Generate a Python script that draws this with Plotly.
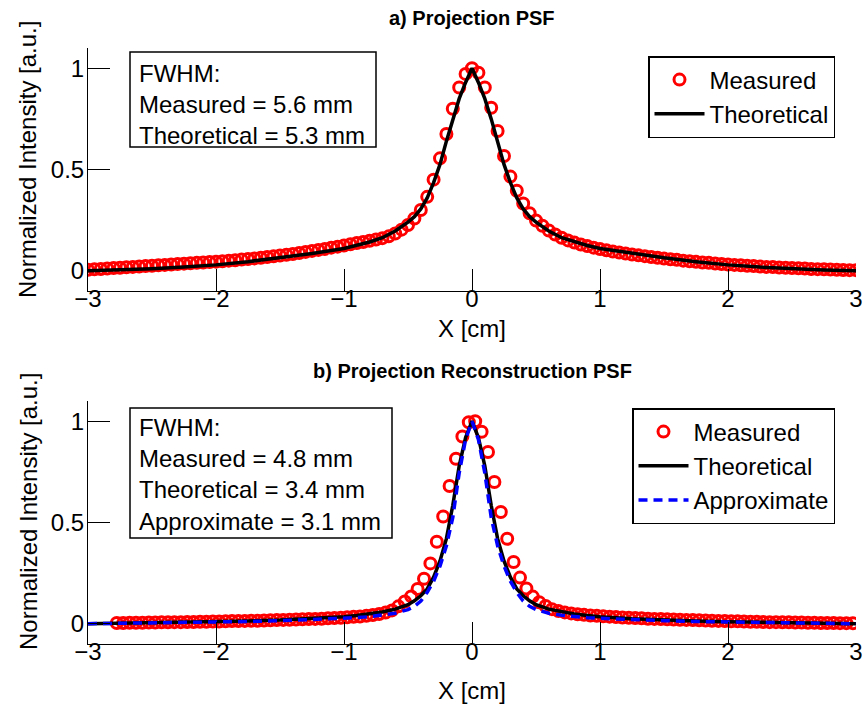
import plotly.graph_objects as go
import numpy as np

# ---------------- data ----------------
# Panel a) Projection PSF
meas_a_x = np.round(np.arange(-3.0, 3.0001, 0.05), 3)
meas_a_y = [
    0.005, 0.007, 0.009, 0.011, 0.013, 0.015, 0.017, 0.019, 0.021, 0.023,
    0.025, 0.027, 0.029, 0.031, 0.033, 0.035, 0.037, 0.039, 0.041, 0.043,
    0.045, 0.047, 0.050, 0.052, 0.055, 0.058, 0.061, 0.064, 0.068, 0.071,
    0.075, 0.079, 0.083, 0.088, 0.093, 0.098, 0.103, 0.108, 0.114, 0.119,
    0.125, 0.131, 0.137, 0.142, 0.148, 0.154, 0.161, 0.170, 0.184, 0.203,
    0.226, 0.258, 0.300, 0.365, 0.450, 0.555, 0.675, 0.800, 0.905, 0.972,
    1.000,
    0.978, 0.905, 0.805, 0.690, 0.567, 0.465, 0.395, 0.332, 0.284, 0.248,
    0.222, 0.199, 0.179, 0.163, 0.150, 0.139, 0.130, 0.122, 0.114, 0.107,
    0.101, 0.095, 0.090, 0.085, 0.080, 0.076, 0.072, 0.068, 0.064, 0.060,
    0.057, 0.054, 0.050, 0.047, 0.044, 0.041, 0.039, 0.036, 0.033, 0.031,
    0.029, 0.027, 0.025, 0.023, 0.021, 0.019, 0.018, 0.016, 0.015, 0.013,
    0.012, 0.011, 0.009, 0.008, 0.007, 0.006, 0.005, 0.004, 0.003, 0.003,
]
theo_a_x = [-3, -2.75, -2.5, -2.25, -2, -1.75, -1.5, -1.25, -1, -0.9, -0.8, -0.7,
            -0.6, -0.5, -0.45, -0.4, -0.35, -0.3, -0.25, -0.2, -0.15, -0.1, -0.05,
            0,
            0.05, 0.1, 0.15, 0.2, 0.25, 0.3, 0.35, 0.4, 0.45, 0.5, 0.6, 0.7, 0.8,
            0.9, 1, 1.25, 1.5, 1.75, 2, 2.25, 2.5, 2.75, 3]
theo_a_y = [0.0, 0.004, 0.010, 0.018, 0.029, 0.045, 0.064, 0.085, 0.110, 0.125, 0.142, 0.163,
            0.196, 0.240, 0.267, 0.305, 0.360, 0.435, 0.525, 0.640, 0.750, 0.850, 0.930,
            1.0,
            0.930, 0.850, 0.750, 0.640, 0.525, 0.435, 0.360, 0.305, 0.267, 0.240, 0.196, 0.163, 0.142,
            0.125, 0.110, 0.085, 0.064, 0.045, 0.029, 0.018, 0.010, 0.004, 0.0]

# Panel b) Projection Reconstruction PSF
meas_b_x = np.round(np.arange(-2.775, 2.9751, 0.05), 3)
meas_b_y = [
    0.004, 0.004, 0.005, 0.005, 0.005, 0.006, 0.006, 0.007, 0.007, 0.008,
    0.008, 0.009, 0.009, 0.010, 0.010, 0.011, 0.011, 0.012, 0.013, 0.013,
    0.014, 0.015, 0.015, 0.016, 0.017, 0.018, 0.019, 0.020, 0.021, 0.022,
    0.023, 0.024, 0.025, 0.027, 0.028, 0.030, 0.032, 0.034, 0.036, 0.039,
    0.043, 0.048, 0.055, 0.066, 0.086, 0.110, 0.135, 0.172, 0.222, 0.298,
    0.405, 0.530, 0.680, 0.815, 0.925, 0.995,
    1.000, 0.948, 0.848, 0.700, 0.552, 0.420, 0.305, 0.228, 0.174, 0.134,
    0.106, 0.088, 0.072, 0.063, 0.056, 0.051, 0.047, 0.044, 0.041, 0.039,
    0.037, 0.035, 0.033, 0.031, 0.030, 0.028, 0.027, 0.025, 0.024, 0.023,
    0.022, 0.021, 0.020, 0.019, 0.018, 0.017, 0.016, 0.015, 0.014, 0.013,
    0.012, 0.012, 0.011, 0.010, 0.010, 0.009, 0.008, 0.008, 0.007, 0.007,
    0.006, 0.006, 0.005, 0.005, 0.004, 0.004, 0.004, 0.003, 0.003, 0.003,
]
line_b_x = [-3, -2.5, -2, -1.75, -1.5, -1.25, -1, -0.9, -0.8, -0.7, -0.6, -0.5,
            -0.45, -0.4, -0.35, -0.3, -0.25, -0.2, -0.15, -0.1, -0.05,
            0,
            0.05, 0.1, 0.15, 0.2, 0.25, 0.3, 0.35, 0.4, 0.45,
            0.5, 0.6, 0.7, 0.8, 0.9, 1, 1.25, 1.5, 1.75, 2, 2.5, 3]
theo_b_y = [0.0, 0.004, 0.010, 0.014, 0.018, 0.025, 0.035, 0.041, 0.048, 0.058, 0.072, 0.094,
            0.113, 0.138, 0.172, 0.230, 0.310, 0.420, 0.585, 0.780, 0.920,
            1.0,
            0.920, 0.780, 0.585, 0.420, 0.310, 0.230, 0.172, 0.138, 0.113,
            0.094, 0.072, 0.058, 0.048, 0.041, 0.035, 0.025, 0.018, 0.014, 0.010, 0.004, 0.0]
appr_b_y = [0.0, 0.003, 0.008, 0.011, 0.015, 0.020, 0.027, 0.030, 0.035, 0.042, 0.052, 0.070,
            0.086, 0.112, 0.155, 0.210, 0.285, 0.385, 0.525, 0.745, 0.910,
            1.0,
            0.910, 0.745, 0.525, 0.385, 0.285, 0.210, 0.155, 0.112, 0.086,
            0.070, 0.052, 0.042, 0.035, 0.030, 0.027, 0.020, 0.015, 0.011, 0.008, 0.003, 0.0]

x_ticks = [-3, -2, -1, 0, 1, 2, 3]
y_ticks = [0, 0.5, 1]
y_ticktext = ["0", "0.5", "1"]

# ---------------- layout helpers (pixel -> paper) ----------------
W, H = 865, 706
L, R, T, B = 88, 9, 48, 62
PW, PH = W - L - R, H - T - B


def px(xp):
    return (xp - L) / PW


def py(yp):
    return (H - B - yp) / PH


FONT = "Liberation Sans, Arial, Helvetica, sans-serif"
FS = 24
RED, BLUE = "#ff0000", "#0000ff"

fig = go.Figure()
mk = dict(symbol="circle-open", size=11, color=RED, line=dict(width=3, color=RED))

fig.add_trace(go.Scatter(x=meas_a_x, y=meas_a_y, mode="markers", marker=mk,
                         name="Measured", xaxis="x", yaxis="y", legend="legend"))
fig.add_trace(go.Scatter(x=theo_a_x, y=theo_a_y, mode="lines",
                         line=dict(color="black", width=3.5),
                         name="Theoretical", xaxis="x", yaxis="y", legend="legend"))
fig.add_trace(go.Scatter(x=meas_b_x, y=meas_b_y, mode="markers", marker=mk,
                         name="Measured", xaxis="x2", yaxis="y2", legend="legend2"))
fig.add_trace(go.Scatter(x=line_b_x, y=theo_b_y, mode="lines",
                         line=dict(color="black", width=3.5),
                         name="Theoretical", xaxis="x2", yaxis="y2", legend="legend2"))
fig.add_trace(go.Scatter(x=line_b_x, y=appr_b_y, mode="lines",
                         line=dict(color=BLUE, width=3.5, dash="9px,6px"),
                         name="Approximate", xaxis="x2", yaxis="y2", legend="legend2"))

top_dom = [py(291), 1.0]
bot_dom = [0.0, py(401)]

xax = dict(range=[-3, 3], tickvals=x_ticks, ticks="inside", ticklen=22, tickwidth=1,
           tickcolor="black", showline=True, linecolor="black", linewidth=1,
           showgrid=False, zeroline=False, mirror=False, automargin=False,
           ticklabelstandoff=-14,
           tickfont=dict(size=FS, color="black", family=FONT), domain=[0, 1])
yax = dict(range=[-0.1, 1.1], tickvals=y_ticks, ticktext=y_ticktext, ticks="inside",
           ticklen=22, tickwidth=1, tickcolor="black", showline=True, linecolor="black",
           linewidth=1, showgrid=False, zeroline=False, mirror=False, automargin=False,
           ticklabelstandoff=-2,
           tickfont=dict(size=FS, color="black", family=FONT))

legend_common = dict(bgcolor="white", bordercolor="black", borderwidth=1.5,
                     font=dict(size=FS, family=FONT, color="black"),
                     itemwidth=50, xanchor="right", yanchor="top", tracegroupgap=0)

fig.update_layout(
    template="none",
    width=W, height=H,
    margin=dict(l=L, r=R, t=T, b=B, autoexpand=False),
    paper_bgcolor="white", plot_bgcolor="white",
    font=dict(family=FONT, size=FS, color="black"),
    xaxis=dict(**xax, anchor="y"),
    yaxis=dict(**yax, anchor="x", domain=top_dom),
    xaxis2=dict(**xax, anchor="y2"),
    yaxis2=dict(**yax, anchor="x2", domain=bot_dom),
    legend=dict(**legend_common, x=px(835), y=py(56)),
    legend2=dict(**legend_common, x=px(835), y=py(408)),
    showlegend=True,
)

shapes = [
    dict(type="rect", xref="paper", yref="paper", x0=px(130), x1=px(376), y0=py(147), y1=py(52),
         line=dict(color="black", width=1.5), fillcolor="white", layer="below"),
    dict(type="rect", xref="paper", yref="paper", x0=px(130), x1=px(392), y0=py(538), y1=py(408),
         line=dict(color="black", width=1.5), fillcolor="white", layer="below"),
]
fig.update_layout(shapes=shapes)

ann = []
ann.append(dict(text="FWHM:<br>Measured = 5.6 mm<br>Theoretical = 5.3 mm",
                x=px(137), y=py(58), xref="paper", yref="paper", xanchor="left", yanchor="top",
                align="left", showarrow=False, font=dict(size=FS, family=FONT, color="black")))
ann.append(dict(text="FWHM:<br>Measured = 4.8 mm<br>Theoretical = 3.4 mm<br>Approximate = 3.1 mm",
                x=px(137), y=py(412), xref="paper", yref="paper", xanchor="left", yanchor="top",
                align="left", showarrow=False, font=dict(size=FS, family=FONT, color="black")))
ann.append(dict(text="<b>a) Projection PSF</b>", x=px(472), y=py(18), xref="paper", yref="paper",
                xanchor="center", yanchor="middle", showarrow=False,
                font=dict(size=20, family=FONT, color="black")))
ann.append(dict(text="<b>b) Projection Reconstruction PSF</b>", x=px(472), y=py(371), xref="paper",
                yref="paper", xanchor="center", yanchor="middle", showarrow=False,
                font=dict(size=20, family=FONT, color="black")))
for yc in (328, 690):
    ann.append(dict(text="X [cm]", x=px(472), y=py(yc), xref="paper", yref="paper",
                    xanchor="center", yanchor="middle", showarrow=False,
                    font=dict(size=FS, family=FONT, color="black")))
for yc in (160, 512):
    ann.append(dict(text="Normalized Intensity [a.u.]", x=px(28), y=py(yc), xref="paper",
                    yref="paper", xanchor="center", yanchor="middle", textangle=-90,
                    showarrow=False, font=dict(size=FS, family=FONT, color="black")))
fig.update_layout(annotations=ann)

fig.write_html("out.html")
